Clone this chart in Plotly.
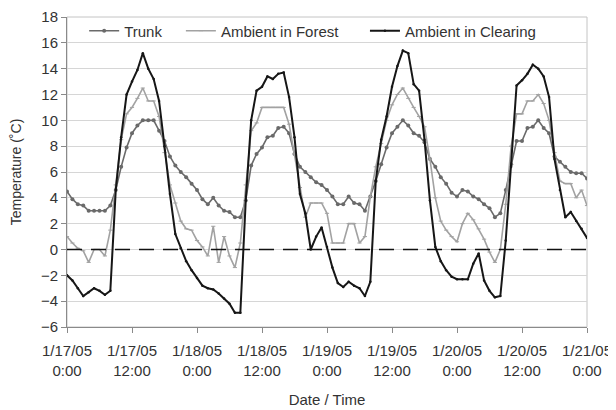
import pandas as pd
import plotly.graph_objects as go

# hourly readings, 1/17/05 0:00 -> 1/21/05 0:00
times = pd.date_range("2005-01-17 00:00", "2005-01-21 00:00", freq="h")

trunk = [4.5, 3.9, 3.5, 3.4, 3.0, 3.0, 3.0, 3.0, 3.4, 4.6,
         6.4, 7.9, 9.0, 9.6, 10.0, 10.0, 10.0, 9.2, 8.4, 7.2,
         6.5, 6.0, 5.6, 5.1, 4.6, 3.9, 3.5, 4.0, 3.4, 3.0,
         2.9, 2.5, 2.5, 3.8, 6.5, 7.4, 7.9, 8.7, 8.8, 9.4,
         9.5, 9.0, 7.4, 6.4, 6.0, 5.6, 5.2, 5.0, 4.6, 4.1,
         3.5, 3.5, 4.1, 3.6, 3.5, 3.0, 4.1, 5.3, 6.6, 7.9,
         9.0, 9.5, 10.0, 9.6, 9.0, 8.8, 8.3, 7.0, 6.4, 5.6,
         5.1, 4.4, 4.1, 4.6, 4.5, 4.1, 3.9, 3.5, 3.2, 2.5,
         2.8, 4.6, 6.6, 8.4, 8.4, 9.4, 9.5, 10.0, 9.4, 9.0,
         7.2, 6.8, 6.4, 6.0, 5.9, 5.9, 5.5]

forest = [1.0, 0.5, 0.1, -0.1, -1.0, 0.0, 0.0, -0.5, 1.5, 5.0,
          8.5, 10.5, 11.0, 11.7, 12.5, 11.5, 11.5, 10.3, 7.5, 5.0,
          3.6, 2.2, 1.6, 1.5, 0.7, 0.2, -0.5, 1.8, -1.0, 1.0,
          -0.5, -1.4, 0.5, 5.0, 9.2, 9.8, 11.0, 11.0, 11.0, 11.0,
          11.0, 9.7, 7.4, 4.8, 2.5, 3.6, 3.6, 3.6, 2.8, 0.5,
          0.5, 0.5, 2.0, 2.0, 0.5, 1.0, 4.1, 6.4, 8.2, 10.0,
          11.2, 12.0, 12.5, 11.7, 11.0, 10.3, 9.5, 7.0, 4.0, 2.2,
          1.5, 1.0, 0.6, 2.0, 2.8, 2.3, 1.6, 0.8, -0.2, -1.0,
          0.0, 3.5, 8.0, 10.5, 10.5, 11.5, 11.5, 12.0, 11.3, 10.0,
          7.5, 5.3, 5.1, 5.1, 4.0, 4.6, 3.4]

clearing = [-2.0, -2.4, -3.0, -3.6, -3.3, -3.0, -3.2, -3.5, -3.2, 4.6,
            8.7, 12.0, 13.0, 13.9, 15.2, 14.0, 13.2, 11.5, 8.0, 4.3,
            1.2, 0.1, -0.9, -1.6, -2.2, -2.8, -3.0, -3.1, -3.4, -3.8,
            -4.2, -4.9, -4.9, 3.8, 10.0, 12.3, 12.6, 13.4, 13.2, 13.6,
            13.7, 11.8, 8.7, 4.3, 2.8, 0.0, 1.0, 1.7, 0.2, -1.4,
            -2.6, -2.9, -2.5, -2.8, -3.0, -3.6, -2.5, 5.3, 8.5, 10.3,
            12.6, 14.2, 15.4, 15.2, 12.8, 12.3, 8.5, 3.8, 0.2, -0.9,
            -1.6, -2.1, -2.3, -2.3, -2.3, -1.1, -0.3, -2.4, -3.2, -3.7,
            -3.6, 0.7, 6.4, 12.7, 13.1, 13.6, 14.3, 14.0, 13.4, 11.8,
            7.0, 4.6, 2.5, 2.9, 2.2, 1.6, 0.9]

tick_times = pd.date_range("2005-01-17 00:00", "2005-01-21 00:00", freq="12h")
tick_labels = ["1/17/05<br>0:00", "1/17/05<br>12:00", "1/18/05<br>0:00",
               "1/18/05<br>12:00", "1/19/05<br>0:00", "1/19/05<br>12:00",
               "1/20/05<br>0:00", "1/20/05<br>12:00", "1/21/05<br>0:00"]
y_ticks = list(range(-6, 20, 2))

FONT = "Liberation Sans, Arial, sans-serif"

fig = go.Figure()
fig.add_trace(go.Scatter(x=times, y=trunk, name="Trunk", mode="lines+markers",
                         line=dict(color="#6a6a6a", width=1.6),
                         marker=dict(symbol="circle", size=4, color="#6a6a6a"),
                         legend="legend", showlegend=True))
fig.add_trace(go.Scatter(x=times, y=forest, name="Ambient in Forest", mode="lines+markers",
                         line=dict(color="#a2a2a2", width=1.6),
                         marker=dict(symbol="line-ew", size=3, color="#a2a2a2",
                                     line=dict(color="#a2a2a2", width=1)),
                         legend="legend2", showlegend=True))
fig.add_trace(go.Scatter(x=times, y=clearing, name="Ambient in Clearing", mode="lines+markers",
                         line=dict(color="#161616", width=2),
                         marker=dict(symbol="circle", size=2.5, color="#161616"),
                         legend="legend3", showlegend=True))

# zero reference line
fig.add_hline(y=0, line=dict(color="#111111", width=1.6, dash="15px,9px"), layer="above")

# plot-area frame
fig.add_shape(type="rect", xref="paper", yref="paper", x0=0, y0=0, x1=1, y1=1,
              line=dict(color="#c4c4c4", width=1), layer="below")

leg_common = dict(orientation="h", yanchor="middle", y=0.955, xanchor="left",
                  bgcolor="rgba(0,0,0,0)", borderwidth=0,
                  font=dict(family=FONT, size=15, color="#333333"),
                  itemclick=False, itemdoubleclick=False)

# page body adds an 8px offset at top/left, so the figure is 8px smaller
fig.update_layout(
    width=608, height=402,
    showlegend=True,
    margin=dict(l=59, r=29, t=9, b=83, autoexpand=False),
    paper_bgcolor="white", plot_bgcolor="white",
    font=dict(family=FONT, size=15, color="#333333"),
    legend=dict(x=0.033, **leg_common),
    legend2=dict(x=0.219, **leg_common),
    legend3=dict(x=0.573, **leg_common),
    xaxis=dict(
        range=[times[0], times[-1]],
        tickvals=tick_times, ticktext=tick_labels,
        showgrid=False, zeroline=False,
        showline=True, linecolor="#8a8a8a", linewidth=1,
        ticks="outside", ticklen=5, tickcolor="#8a8a8a",
        ticklabelstandoff=5,
        tickfont=dict(family=FONT, size=15, color="#333333"),
        title=dict(text="Date / Time", font=dict(family=FONT, size=15, color="#333333"),
                   standoff=16),
        automargin=False,
    ),
    yaxis=dict(
        range=[-6, 18], tickvals=y_ticks,
        showgrid=True, gridcolor="#d6d6d6", gridwidth=1, zeroline=False,
        showline=True, linecolor="#8a8a8a", linewidth=1,
        ticks="outside", ticklen=5, tickcolor="#8a8a8a",
        tickfont=dict(family=FONT, size=15, color="#333333"),
        title=dict(text="Temperature (˚C)", font=dict(family=FONT, size=14, color="#333333"),
                   standoff=16),
        automargin=False,
    ),
)

fig.write_html("out.html")
